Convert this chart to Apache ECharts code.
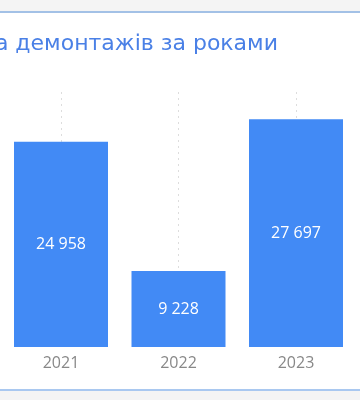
<!DOCTYPE html>
<html>
<head>
<meta charset="utf-8">
<script src="https://cdn.jsdelivr.net/npm/echarts@6/dist/echarts.min.js"></script>
<style>
html,body{margin:0;padding:0;width:360px;height:400px;overflow:hidden;background:#f4f4f4;}
#card{position:absolute;left:-20px;right:-20px;top:11px;height:376px;background:#fff;border-top:2px solid #a3c1e6;border-bottom:2px solid #a9c8f0;}
#chart{position:absolute;left:0;top:0;width:360px;height:400px;}
</style>
</head>
<body>
<div id="card"></div>
<div id="chart"></div>
<script>
const titleText = 'Динаміка демонтажів за роками';
const categories = ['2021', '2022', '2023'];
const values = [24958, 9228, 27697];

function fmt(v){ return String(v).replace(/\B(?=(\d{3})+(?!\d))/g, ' '); }

const chart = echarts.init(document.getElementById('chart'), null, {renderer:'canvas'});
chart.setOption({
  backgroundColor: 'transparent',
  animation: false,
  title: {
    text: titleText,
    right: 82, top: 33, padding: 0,
    textStyle: {fontFamily: 'DejaVu Sans', fontSize: 22, fontWeight: 'normal', color: '#4a80e6'}
  },
  grid: {left: 61, right: 64, top: 92, bottom: 53},
  xAxis: {
    type: 'category',
    data: categories,
    boundaryGap: false,
    axisLine: {show: false},
    axisTick: {show: false},
    axisLabel: {margin: 8, fontFamily: 'Open Sans', fontSize: 16, color: '#888'},
    splitLine: {show: true, lineStyle: {type: [2, 4], color: '#dddddd', width: 1}}
  },
  yAxis: {
    type: 'value', min: 0, max: 31000, show: false,
    splitLine: {show: false}
  },
  series: [{
    type: 'bar',
    data: values,
    barCategoryGap: '20%',
    itemStyle: {color: '#428af5'},
    label: {
      show: true, position: 'inside', color: '#fff',
      fontFamily: 'Open Sans', fontSize: 16,
      formatter: p => fmt(p.value)
    }
  }]
});
</script>
</body>
</html>
